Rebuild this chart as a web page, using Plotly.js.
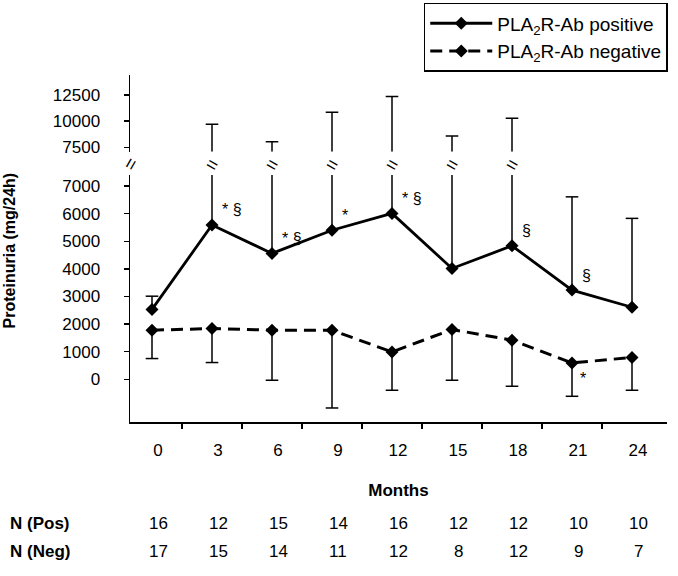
<!DOCTYPE html>
<html>
<head>
<meta charset="utf-8">
<script src="https://cdn.plot.ly/plotly-3.0.1.min.js"></script>
<style>html,body{margin:0;padding:0;background:#fff}#chart{width:678px;height:576px}</style>
</head>
<body>
<div id="chart"></div>
<script>
// ---- data ----
const months   = [0, 3, 6, 9, 12, 15, 18, 21, 24];
const posMean  = [2530, 5590, 4560, 5400, 6010, 4015, 4835, 3230, 2610];
const posUpper = [3010, 9700, 8030, 10850, 12350, 8580, 10270, 6610, 5830];
const negMean  = [1777, 1839, 1777, 1777, 990, 1803, 1415, 590, 790];
const negLower = [750, 606, -36, -1041, -399, -36, -254, -617, -399];
const nPos     = [16, 12, 15, 14, 16, 12, 12, 10, 10];
const nNeg     = [17, 15, 14, 11, 12, 8, 12, 9, 7];
const posSig   = ["", "* §", "* §", "*", "* §", "", "§", "§", ""];
const negSig   = ["", "", "", "", "", "", "", "*", ""];
const lowerTicks = [0, 1000, 2000, 3000, 4000, 5000, 6000, 7000];
const upperTicks = [7500, 10000, 12500];
const posName = "PLA<sub>2</sub>R-Ab positive";
const negName = "PLA<sub>2</sub>R-Ab negative";

// ---- axis segments (broken y axis) ----
const LOW_RANGE = [-1549, 7399];
const UP_RANGE  = [7080, 14410];
const LOW_DOMAIN = [0, 0.7116];
const UP_DOMAIN  = [0.7788, 1];
const BREAK_Y = 0.743;

const FONT = "Liberation Sans, Arial, sans-serif";

// error bar segments
const lowSegX = [], lowSegY = [], lowCapX = [], lowCapY = [];
const upSegX = [], upSegY = [], upCapX = [], upCapY = [];
const breakMonths = [];
months.forEach((m, i) => {
  const top = posUpper[i];
  if (top > LOW_RANGE[1]) {
    lowSegX.push(m, m, null); lowSegY.push(posMean[i], LOW_RANGE[1], null);
    upSegX.push(m, m, null); upSegY.push(UP_RANGE[0], top, null);
    upCapX.push(m); upCapY.push(top);
    breakMonths.push(m);
  } else {
    lowSegX.push(m, m, null); lowSegY.push(posMean[i], top, null);
    lowCapX.push(m); lowCapY.push(top);
  }
  lowSegX.push(m, m, null); lowSegY.push(negMean[i], negLower[i], null);
  lowCapX.push(m); lowCapY.push(negLower[i]);
});

const errLine = {color: "#000", width: 1.5};
const capMarker = {symbol: "line-ew", size: 9, line: {color: "#000", width: 1.5}};

const traces = [
  {x: lowSegX, y: lowSegY, xaxis: "x", yaxis: "y", mode: "lines", line: errLine, showlegend: false, hoverinfo: "skip"},
  {x: lowCapX, y: lowCapY, xaxis: "x", yaxis: "y", mode: "markers", marker: capMarker, showlegend: false, hoverinfo: "skip"},
  {x: upSegX, y: upSegY, xaxis: "x", yaxis: "y2", mode: "lines", line: errLine, showlegend: false, hoverinfo: "skip"},
  {x: upCapX, y: upCapY, xaxis: "x", yaxis: "y2", mode: "markers", marker: capMarker, showlegend: false, hoverinfo: "skip"},
  {x: months, y: posMean, xaxis: "x", yaxis: "y", name: posName, mode: "lines+markers",
   line: {color: "#000", width: 2.8}, marker: {symbol: "diamond", size: 10, color: "#000"}, legendgroup: "a"},
  {x: months, y: negMean, xaxis: "x", yaxis: "y", name: negName, mode: "lines+markers",
   line: {color: "#000", width: 3, dash: "12px,7px"}, marker: {symbol: "diamond", size: 10, color: "#000"}, legendgroup: "b"}
];

const annotations = [];
// break marks on error bars
breakMonths.forEach(m => annotations.push({
  x: m, xref: "x", y: BREAK_Y, yref: "paper", text: "=", showarrow: false,
  xanchor: "center", yanchor: "middle",
  textangle: 30, font: {family: FONT, size: 19, color: "#000"}
}));
// break mark on y axis
annotations.push({x: 0, xref: "paper", y: BREAK_Y, yref: "paper", text: "=", showarrow: false,
  xanchor: "center", yanchor: "middle",
  textangle: -60, font: {family: FONT, size: 19, color: "#000"}});
// significance marks
months.forEach((m, i) => {
  if (posSig[i]) annotations.push({x: m, xref: "x", y: posMean[i], yref: "y", text: posSig[i],
    showarrow: false, xanchor: "left", yanchor: "middle", xshift: 8, yshift: 15,
    font: {family: FONT, size: 16, color: "#000"}});
  if (negSig[i]) annotations.push({x: m, xref: "x", y: negMean[i], yref: "y", text: negSig[i],
    showarrow: false, xanchor: "left", yanchor: "middle", xshift: 6, yshift: -16,
    font: {family: FONT, size: 16, color: "#000"}});
});
// N rows
const rowY = [-0.292, -0.373];
[nPos, nNeg].forEach((arr, r) => {
  arr.forEach((n, i) => annotations.push({x: months[i], xref: "x", y: rowY[r], yref: "paper",
    text: String(n), showarrow: false, xanchor: "center", yanchor: "middle", xshift: 6,
    font: {family: FONT, size: 17, color: "#000"}}));
});
annotations.push({x: -0.227, xref: "paper", y: rowY[0], yref: "paper", text: "<b>N (Pos)</b>",
  showarrow: false, xanchor: "left", yanchor: "middle", font: {family: FONT, size: 17, color: "#000"}});
annotations.push({x: -0.227, xref: "paper", y: rowY[1], yref: "paper", text: "<b>N (Neg)</b>",
  showarrow: false, xanchor: "left", yanchor: "middle", font: {family: FONT, size: 17, color: "#000"}});
// y title
annotations.push({x: -0.225, xref: "paper", y: 0.495, yref: "paper", text: "<b>Proteinuria (mg/24h)</b>",
  showarrow: false, textangle: -90, xanchor: "center", yanchor: "middle",
  font: {family: FONT, size: 16, color: "#000"}});

const midTicks = months.slice(0, -1).map((m, i) => (m + months[i + 1]) / 2);

const yCommon = {
  showline: true, linecolor: "#000", linewidth: 1.5, ticks: "outside", ticklen: 5,
  tickcolor: "#000", tickwidth: 1.5, showgrid: false, zeroline: false, automargin: false,
  tickfont: {family: FONT, size: 17, color: "#000"}, ticklabelstandoff: 20, tickmode: "array", fixedrange: true
};

const layout = {
  width: 678, height: 576,
  margin: {l: 130, r: 11, t: 75, b: 154, autoexpand: false},
  paper_bgcolor: "#fff", plot_bgcolor: "#fff",
  font: {family: FONT, color: "#000"},
  xaxis: {
    type: "linear", range: [-1.1, 25.75], anchor: "y", automargin: false,
    tickmode: "array", tickvals: months, ticktext: months.map(String), ticks: "",
    ticklabelshift: 6, ticklabelstandoff: 12,
    minor: {tickmode: "array", tickvals: midTicks, ticks: "outside", ticklen: 5, tickcolor: "#000", tickwidth: 1.5, showgrid: false},
    showline: true, linecolor: "#000", linewidth: 1.5, showgrid: false, zeroline: false,
    tickfont: {family: FONT, size: 17, color: "#000"},
    title: {text: "<b>Months</b>", font: {family: FONT, size: 17, color: "#000"}, standoff: 25}
  },
  yaxis: Object.assign({}, yCommon, {domain: LOW_DOMAIN, range: LOW_RANGE, tickvals: lowerTicks,
    ticktext: lowerTicks.map(String), anchor: "x"}),
  yaxis2: Object.assign({}, yCommon, {domain: UP_DOMAIN, range: UP_RANGE, tickvals: upperTicks,
    ticktext: upperTicks.map(String), anchor: "x"}),
  showlegend: true,
  legend: {
    x: 0.547, y: 0.995, xref: "paper", yref: "container", xanchor: "left", yanchor: "top",
    bgcolor: "#fff", bordercolor: "#000", borderwidth: 1.5,
    font: {family: FONT, size: 19, color: "#000"},
    traceorder: "grouped", tracegroupgap: 0, itemwidth: 62
  },
  annotations: annotations
};

Plotly.newPlot("chart", traces, layout, {displayModeBar: false, staticPlot: true});
</script>
</body>
</html>
